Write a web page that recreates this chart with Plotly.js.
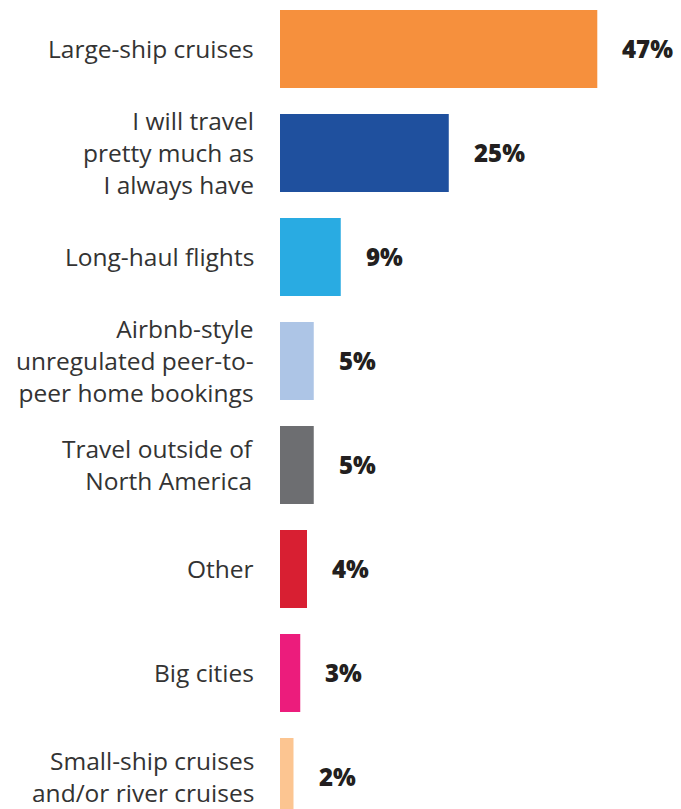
<!DOCTYPE html>
<html>
<head>
<meta charset="utf-8">
<script src="https://cdn.plot.ly/plotly-3.0.1.min.js"></script>
<style>html,body{margin:0;padding:0;background:#fff;}#chart{width:681px;height:809px;}</style>
</head>
<body>
<div id="chart"></div>
<script>
const categories = [
  "Large-ship cruises",
  "I will travel<br>pretty much as<br>I always have",
  "Long-haul flights",
  "Airbnb-style<br>unregulated peer-to-<br>peer home bookings",
  "Travel outside of<br>North America",
  "Other",
  "Big cities",
  "Small-ship cruises<br>and/or river cruises"
];
const values = [47, 25, 9, 5, 5, 4, 3, 2];
const valueLabels = ["47%", "25%", "9%", "5%", "5%", "4%", "3%", "2%"];
const colors = ["#F6903D", "#1F509E", "#29ABE2", "#ADC5E6", "#6D6E71", "#D81F32", "#EC1C7C", "#FCC591"];

const trace = {
  type: "bar",
  orientation: "h",
  x: values,
  y: categories,
  marker: {color: colors, line: {width: 0}},
  hoverinfo: "none"
};

const annotations = [];
categories.forEach((c, i) => {
  annotations.push({
    x: values[i], y: c, xref: "x", yref: "y",
    text: valueLabels[i], showarrow: false,
    xanchor: "left", yanchor: "middle", xshift: 23,
    font: {family: "Open Sans, sans-serif", size: 24, weight: 800, color: "#231F20"}
  });
  annotations.push({
    x: 0, y: c, xref: "paper", yref: "y",
    text: c, showarrow: false, align: "right",
    xanchor: "right", yanchor: "middle",
    borderpad: 0, borderwidth: 0,
    xshift: -26,
    font: {family: "Open Sans, sans-serif", size: 24.5, color: "#333333"}
  });
});

const layout = {
  width: 681, height: 809,
  margin: {l: 280, r: 0, t: 0, b: 0, pad: 0},
  paper_bgcolor: "#ffffff", plot_bgcolor: "#ffffff",
  showlegend: false,
  bargap: 0.25,
  xaxis: {range: [0, 59.4], visible: false, fixedrange: true},
  yaxis: {
    type: "category",
    range: [7.308, -0.471],
    showgrid: false, zeroline: false, showline: false,
    showticklabels: false, ticks: "",
    automargin: false
  },
  annotations: annotations
};

Plotly.newPlot("chart", [trace], layout, {staticPlot: true, displayModeBar: false});
</script>
</body>
</html>
